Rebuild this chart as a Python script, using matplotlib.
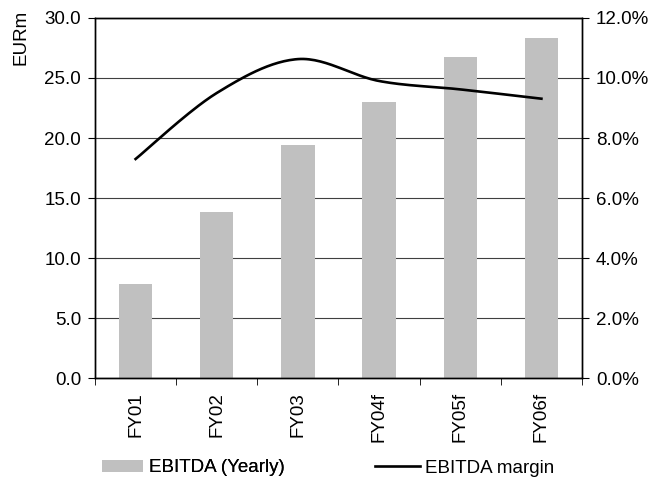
import numpy as np
import matplotlib
matplotlib.use("Agg")
import matplotlib.pyplot as plt
from matplotlib.patches import Patch
from matplotlib.lines import Line2D

plt.rcParams['font.family'] = ['Liberation Sans', 'DejaVu Sans']
plt.rcParams['font.size'] = 13.5

years = ['FY01', 'FY02', 'FY03', 'FY04f', 'FY05f', 'FY06f']
ebitda = [7.8, 13.85, 19.4, 23.0, 26.75, 28.3]      # EURm
margin = [7.3, 9.5, 10.63, 9.9, 9.62, 9.31]         # %


def smooth(x, y, n=30):
    # Catmull-Rom curve, same look as Excel's "smoothed line"
    x = np.asarray(x, float)
    y = np.asarray(y, float)
    px = np.r_[x[0], x, x[-1]]
    py = np.r_[y[0], y, y[-1]]
    xs, ys = [], []
    t = np.linspace(0, 1, n)
    for i in range(1, len(x)):
        p0, p1, p2, p3 = [np.array([px[j], py[j]]) for j in (i - 1, i, i + 1, i + 2)]
        c1 = p1 + (p2 - p0) / 6
        c2 = p2 - (p3 - p1) / 6
        pts = ((1 - t) ** 3)[:, None] * p1 + (3 * (1 - t) ** 2 * t)[:, None] * c1 \
            + (3 * (1 - t) * t ** 2)[:, None] * c2 + (t ** 3)[:, None] * p2
        xs.extend(pts[:, 0])
        ys.extend(pts[:, 1])
    return xs, ys


fig = plt.figure(figsize=(6.67, 4.86), dpi=100)
ax = fig.add_axes([95 / 667, 1 - 378 / 486, (582 - 95) / 667, 360 / 486])
ax2 = ax.twinx()

ind = np.arange(len(years))
ax.bar(ind, ebitda, width=0.41, color='#c0c0c0', zorder=2)
ax.set_xlim(-0.5, len(years) - 0.5)
ax.set_ylim(0, 30)
ax.set_yticks(np.arange(0, 31, 5))
ax.set_yticklabels(['%.1f' % v for v in np.arange(0, 31, 5)])
ax.yaxis.grid(True, color='#404040', linewidth=0.8)
ax.set_axisbelow(True)

ax.set_xticks(ind)
ax.set_xticklabels(years, rotation=90)
ax.set_xticks(np.arange(-0.5, len(years)), minor=True)
ax.tick_params(axis='x', which='major', length=0, pad=10)
ax.tick_params(axis='x', which='minor', length=5, direction='out')
ax.tick_params(axis='y', length=5, direction='out', pad=5)

xs, ys = smooth(ind, margin)
ax2.plot(xs, ys, color='black', linewidth=1.9, zorder=3)
ax2.set_ylim(0, 12)
ax2.set_yticks(np.arange(0, 13, 2))
ax2.set_yticklabels(['%.1f%%' % v for v in np.arange(0, 13, 2)])
ax2.tick_params(axis='y', length=5, direction='out', pad=5)

for a in (ax, ax2):
    for s in a.spines.values():
        s.set_linewidth(1.0)
        s.set_color('black')

fig.text(21 / 667, 1 - 37 / 486, 'EURm', rotation=90, ha='center', va='center')

leg1 = fig.legend([Patch(facecolor='#c0c0c0', edgecolor='none')], ['EBITDA (Yearly)'],
                  frameon=False, loc='center left', bbox_to_anchor=(102 / 667, 1 - 468 / 486),
                  handlelength=2.2, handleheight=0.55, handletextpad=0.3,
                  borderaxespad=0, borderpad=0)
fig.add_artist(leg1)
fig.legend([Line2D([0], [0], color='black', linewidth=1.9)], ['EBITDA margin'],
           frameon=False, loc='center left', bbox_to_anchor=(375 / 667, 1 - 468 / 486),
           handlelength=2.4, handletextpad=0.25, borderaxespad=0, borderpad=0)

fig.savefig('out.png', dpi=100)
